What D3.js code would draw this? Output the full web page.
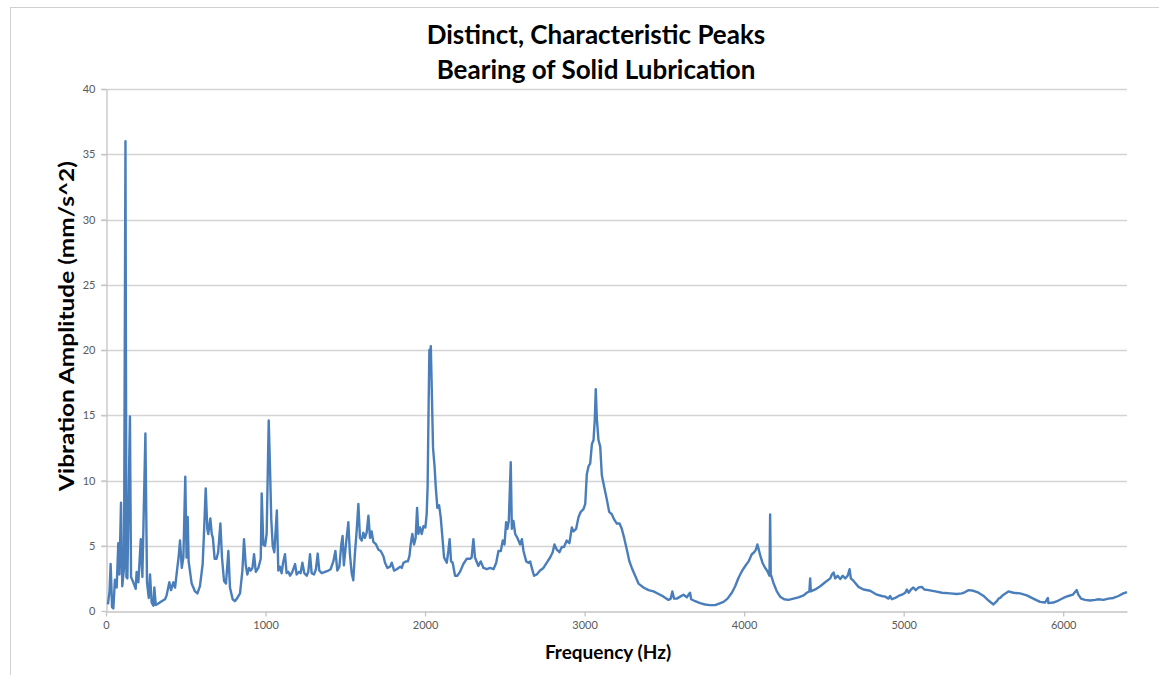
<!DOCTYPE html>
<html>
<head>
<meta charset="utf-8">
<script src="https://cdn.jsdelivr.net/npm/d3@7"></script>
<style>
  body { margin: 0; background: #fff; }
  svg { display: block; }
</style>
</head>
<body>
<svg id="chart" width="1159" height="675"></svg>
<script>
const titleLines = ["Distinct, Characteristic Peaks", "Bearing of Solid Lubrication"];
const xLabel = "Frequency (Hz)";
const yLabel = "Vibration Amplitude (mm/s^2)";
const xTicks = [0, 1000, 2000, 3000, 4000, 5000, 6000];
const yTicks = [0, 5, 10, 15, 20, 25, 30, 35, 40];

const freqHz = [12,22,29,38,46,56,67,77,84,94,102,113,122,128,134,150,157,171,186,192,203,218,228,247,257,268,276,286,297,303,312,330,349,370,380,397,408,422,433,447,455,464,475,485,497,505,512,518,537,558,573,589,606,614,625,635,641,654,663,670,681,693,703,717,727,740,752,767,777,794,808,823,840,855,865,876,886,897,907,918,928,939,955,970,976,986,997,1007,1020,1028,1036,1045,1055,1071,1080,1090,1101,1110,1122,1132,1143,1154,1168,1185,1195,1210,1220,1231,1243,1258,1268,1279,1289,1304,1316,1327,1337,1352,1373,1394,1408,1425,1438,1450,1463,1475,1483,1491,1504,1519,1529,1540,1550,1560,1571,1582,1592,1603,1613,1623,1634,1645,1655,1665,1676,1693,1708,1722,1739,1749,1764,1781,1791,1806,1823,1844,1854,1865,1881,1892,1902,1910,1920,1931,1941,1950,1958,1969,1979,1990,2002,2010,2016,2022,2027,2031,2036,2042,2050,2060,2067,2077,2088,2098,2109,2119,2136,2146,2154,2163,2173,2188,2202,2219,2240,2261,2282,2292,2303,2313,2334,2349,2366,2387,2408,2429,2446,2460,2475,2487,2498,2508,2516,2525,2537,2544,2554,2565,2579,2596,2607,2617,2634,2648,2659,2669,2683,2700,2721,2742,2763,2784,2800,2811,2826,2842,2857,2871,2888,2905,2920,2930,2947,2962,2976,2993,3004,3014,3025,3035,3046,3056,3064,3070,3077,3087,3098,3108,3123,3140,3154,3171,3186,3202,3219,3233,3248,3265,3281,3296,3317,3338,3369,3401,3432,3464,3495,3526,3540,3550,3561,3578,3599,3620,3641,3661,3668,3693,3724,3755,3787,3818,3839,3871,3896,3923,3944,3965,3986,4007,4028,4048,4063,4074,4083,4092,4100,4115,4132,4146,4159,4163,4167,4184,4205,4226,4251,4278,4310,4341,4373,4393,4409,4414,4418,4446,4477,4508,4540,4550,4561,4571,4586,4603,4618,4634,4649,4661,4669,4686,4717,4748,4790,4832,4863,4884,4905,4915,4926,4947,4968,4989,5010,5020,5031,5046,5061,5076,5093,5114,5129,5156,5198,5240,5292,5334,5365,5386,5407,5438,5469,5501,5532,5563,5584,5595,5605,5626,5657,5688,5730,5772,5813,5855,5886,5904,5907,5938,5970,6001,6033,6060,6074,6085,6095,6112,6137,6169,6200,6221,6252,6283,6315,6346,6377,6400];

const amplitude = [0.5,1.5,3.6,0.3,0.2,2.4,1.8,5.2,2.8,8.3,1.9,3.3,36.0,2.6,2.5,14.9,2.6,2.2,1.7,3.0,2.2,5.5,2.6,13.6,2.2,1.0,2.8,0.65,0.4,1.8,0.45,0.6,0.75,0.9,1.2,2.2,1.6,2.2,1.8,3.3,4.1,5.4,3.3,4.1,10.3,4.1,7.2,3.8,2.1,1.5,1.35,1.9,3.6,5.9,9.4,6.3,5.9,7.1,5.9,5.6,4.0,4.0,4.5,6.7,4.1,2.3,2.1,4.6,1.8,0.9,0.75,1.0,1.35,3.1,5.5,3.5,2.8,3.3,3.1,3.3,4.35,3.0,3.3,4.0,9.0,5.1,5.0,5.9,14.6,11.0,7.0,5.0,4.5,7.7,3.1,3.4,2.9,3.7,4.35,2.9,3.0,2.7,3.0,3.6,2.8,3.0,2.9,3.7,2.9,2.7,3.0,4.35,2.9,2.8,3.2,4.4,3.1,2.9,3.0,3.1,3.2,3.8,4.6,3.1,3.4,5.1,5.75,3.5,5.1,6.8,4.35,2.9,2.35,4.35,6.1,8.2,5.6,5.4,6.0,5.6,6.0,7.3,5.6,6.1,5.3,5.1,4.7,4.6,4.2,3.7,3.3,3.4,3.7,3.1,3.2,3.4,3.3,3.7,3.8,3.8,4.2,5.1,5.9,5.1,5.6,7.9,5.9,6.4,5.9,6.5,6.4,7.4,9.5,15.5,20.0,19.3,20.3,17.0,12.5,11.0,9.5,7.9,8.1,7.2,5.6,4.1,3.7,4.6,5.5,3.8,3.7,2.7,2.7,3.0,3.6,4.0,4.0,4.1,5.5,4.1,3.45,3.8,3.3,3.2,3.3,3.2,3.7,4.6,4.6,5.4,5.1,6.8,6.3,6.9,11.4,6.3,6.9,5.9,5.6,5.1,5.5,4.6,3.8,3.7,3.8,3.3,2.7,2.8,3.1,3.3,3.7,4.1,4.5,5.1,4.7,4.5,4.9,4.9,5.4,5.2,6.4,6.1,6.3,7.2,7.6,7.8,8.2,10.5,11.1,11.3,12.8,13.1,14.7,17.0,14.7,13.1,12.6,10.4,9.5,8.5,7.6,7.4,7.0,6.7,6.7,6.3,5.6,4.7,3.8,3.3,2.7,2.1,1.8,1.6,1.5,1.3,1.1,0.85,0.95,1.5,0.95,0.95,1.1,1.25,1.05,1.4,0.9,0.75,0.6,0.5,0.45,0.45,0.55,0.7,0.95,1.4,1.9,2.55,3.05,3.45,3.8,4.35,4.5,4.7,5.1,4.7,4.3,3.7,3.3,3.05,2.7,7.4,2.8,2.15,1.5,1.1,0.9,0.85,0.95,1.05,1.2,1.4,1.5,2.5,1.5,1.65,1.9,2.2,2.5,2.8,2.95,2.5,2.7,2.45,2.7,2.5,2.7,3.2,2.5,2.3,1.85,1.65,1.55,1.25,1.15,1.1,0.95,1.15,0.9,1.0,1.15,1.25,1.4,1.65,1.4,1.65,1.8,1.6,1.8,1.85,1.65,1.6,1.5,1.4,1.35,1.3,1.35,1.45,1.6,1.55,1.4,1.15,0.8,0.5,0.75,0.95,1.0,1.25,1.5,1.4,1.35,1.2,0.95,0.7,0.65,1.0,0.6,0.65,0.8,1.0,1.15,1.25,1.45,1.6,1.25,0.95,0.85,0.8,0.85,0.9,0.85,0.95,1.0,1.15,1.35,1.45];

if (freqHz.length !== amplitude.length) {
  throw new Error("length mismatch: freq " + freqHz.length + " amp " + amplitude.length);
}

const svg = d3.select("#chart");

// outer chart frame
svg.append("rect")
  .attr("x", 10.5).attr("y", 7.5)
  .attr("width", 1170).attr("height", 700)
  .attr("fill", "none").attr("stroke", "#d0d0d0").attr("stroke-width", 1);

const plotL = 106, plotR = 1127, plotT = 89, plotB = 611;
const x = d3.scaleLinear().domain([0, 6400]).range([plotL, plotR]);
const y = d3.scaleLinear().domain([0, 40]).range([plotB, plotT]);

// gridlines
svg.append("g")
  .selectAll("line").data(yTicks.filter(d => d > 0)).join("line")
  .attr("x1", plotL - 5).attr("x2", plotR)
  .attr("y1", d => Math.round(y(d)) + 0.5).attr("y2", d => Math.round(y(d)) + 0.5)
  .attr("stroke", "#d4d4d4").attr("stroke-width", 1.3);

// y axis
const yAxis = svg.append("g")
  .attr("transform", `translate(${plotL + 0.5},0)`)
  .call(d3.axisLeft(y).tickValues(yTicks).tickSize(5).tickSizeOuter(0).tickPadding(6));
yAxis.select(".domain").attr("stroke", "#c4c4c4").attr("stroke-width", 1.3);
yAxis.selectAll(".tick line").attr("stroke", "#c4c4c4").attr("stroke-width", 1.3);
yAxis.selectAll(".tick text")
  .attr("font-family", "Lato, sans-serif")
  .attr("font-size", 11).attr("fill", "#595959");

// x axis
const xAxis = svg.append("g")
  .attr("transform", `translate(0,${plotB + 0.5})`)
  .call(d3.axisBottom(x).tickValues(xTicks).tickSize(5).tickSizeOuter(0).tickPadding(5).tickFormat(d3.format("d")));
xAxis.select(".domain").attr("stroke", "#c4c4c4").attr("stroke-width", 1.3);
xAxis.selectAll(".tick line").attr("stroke", "#c4c4c4").attr("stroke-width", 1.3);
xAxis.selectAll(".tick text")
  .attr("font-family", "Lato, sans-serif")
  .attr("font-size", 11).attr("fill", "#595959");

// line
const pts = freqHz.map((f, i) => [f, amplitude[i]]);
svg.append("path")
  .datum(pts)
  .attr("fill", "none")
  .attr("stroke", "#4a7ebb")
  .attr("stroke-width", 2.4)
  .attr("stroke-linejoin", "round")
  .attr("d", d3.line().x(d => x(d[0])).y(d => y(d[1])));

// title
svg.append("g").selectAll("text").data(titleLines).join("text")
  .attr("x", 596).attr("y", (d, i) => 44 + i * 35)
  .attr("text-anchor", "middle")
  .attr("font-family", "Lato, sans-serif")
  .attr("font-weight", "bold").attr("font-size", 26)
  .attr("fill", "#000")
  .text(d => d);

// axis titles
svg.append("text")
  .attr("x", 608).attr("y", 659)
  .attr("text-anchor", "middle")
  .attr("font-family", "Lato, sans-serif")
  .attr("font-weight", "bold").attr("font-size", 19)
  .attr("fill", "#000").text(xLabel);

svg.append("text")
  .attr("transform", "translate(74,326) rotate(-90)")
  .attr("text-anchor", "middle")
  .attr("font-family", "Lato, sans-serif")
  .attr("font-weight", "bold").attr("font-size", 20)
  .attr("textLength", 330).attr("lengthAdjust", "spacingAndGlyphs")
  .attr("fill", "#000").text(yLabel);
</script>
</body>
</html>
